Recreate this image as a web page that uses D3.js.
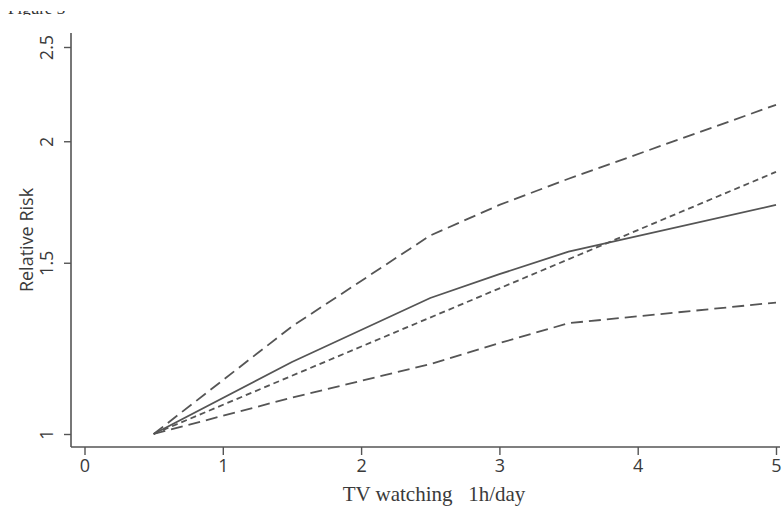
<!DOCTYPE html>
<html>
<head>
<meta charset="utf-8">
<script src="https://cdn.jsdelivr.net/npm/d3@7"></script>
<style>
  body { margin: 0; background: #fff; }
  svg { display: block; }
</style>
</head>
<body>
<div id="chart"></div>
<script>
// data
var xTicks = [0, 1, 2, 3, 4, 5];
var yTicks = [1, 1.5, 2, 2.5];
var upperX = [0.5, 1.5, 2.5, 3, 3.5, 5];
var upperY = [1, 1.29, 1.60, 1.72, 1.83, 2.18];
var rrX = [0.5, 1.5, 2.5, 3, 3.5, 5];
var rrY = [1, 1.186, 1.38, 1.46, 1.54, 1.72];
var linearX = [0.5, 5];
var linearY = [1, 1.86];
var lowerX = [0.5, 1.5, 2.5, 3, 3.5, 5];
var lowerY = [1, 1.09, 1.18, 1.24, 1.30, 1.365];

var svgWidth = 784, svgHeight = 510;
var svg = d3.select("#chart").append("svg")
  .attr("width", svgWidth)
  .attr("height", svgHeight);

// cut-off caption at the top of the page
svg.append("clipPath").attr("id", "topclip")
  .append("rect").attr("x", 0).attr("y", 11).attr("width", 100).attr("height", 4);
svg.append("text")
  .attr("clip-path", "url(#topclip)")
  .attr("x", 8).attr("y", 14)
  .style("font-family", "Liberation Serif")
  .style("font-size", "17px")
  .style("fill", "#333")
  .text("Figure 3");

// scales
var x = d3.scaleLinear().domain([0, 5]).range([84.5, 776]);
var y = d3.scaleLog().domain([1, 2.5]).range([434, 47]);
var axisLeftX = 71, axisBottomY = 447, axisTop = 33, axisRight = 780;

var ink = "#555";
var textInk = "#3a3a3a";

// axes
var bottomAxis = d3.axisBottom(x).tickValues(xTicks).tickSize(8).tickPadding(4)
  .tickFormat(d3.format("d"));
var gx = svg.append("g")
  .attr("transform", `translate(0, ${axisBottomY})`)
  .call(bottomAxis);
gx.select(".domain").remove();
gx.append("line")
  .attr("x1", axisLeftX).attr("x2", axisRight)
  .attr("stroke", ink).attr("stroke-width", 1.6);
gx.selectAll(".tick line").attr("stroke", ink).attr("stroke-width", 1.4);
gx.selectAll(".tick text")
  .style("font-family", "Open Sans")
  .style("font-size", "18px")
  .style("fill", textInk);

var leftAxis = d3.axisLeft(y).tickValues(yTicks).tickSize(7).tickFormat(d => String(d));
var gy = svg.append("g")
  .attr("transform", `translate(${axisLeftX}, 0)`)
  .call(leftAxis);
gy.select(".domain").remove();
gy.append("line")
  .attr("y1", axisTop).attr("y2", axisBottomY)
  .attr("stroke", ink).attr("stroke-width", 1.6);
gy.selectAll(".tick line").attr("stroke", ink).attr("stroke-width", 1.4);
gy.selectAll(".tick text")
  .attr("x", null).attr("dy", null)
  .attr("transform", "translate(-18, 0) rotate(-90)")
  .style("text-anchor", "middle")
  .style("font-family", "Open Sans")
  .style("font-size", "18px")
  .style("fill", textInk);

// axis titles
svg.append("text")
  .attr("transform", "translate(33, 240) rotate(-90)")
  .style("text-anchor", "middle")
  .style("font-family", "Open Sans")
  .style("font-size", "18px")
  .style("fill", textInk)
  .text("Relative Risk");

svg.append("text")
  .attr("x", 434).attr("y", 501)
  .style("text-anchor", "middle")
  .style("font-family", "Liberation Serif")
  .style("font-size", "21px")
  .style("fill", textInk)
  .attr("xml:space", "preserve")
  .text("TV watching   1h/day");

// curves
var line = d3.line().x(d => x(d[0])).y(d => y(d[1]));
var series = [
  { xs: upperX, ys: upperY, dash: "12,6" },
  { xs: rrX, ys: rrY, dash: null },
  { xs: linearX, ys: linearY, dash: "6,4" },
  { xs: lowerX, ys: lowerY, dash: "12,6" }
];
series.forEach(function(s) {
  svg.append("path")
    .datum(s.xs.map((v, i) => [v, s.ys[i]]))
    .attr("d", line)
    .attr("fill", "none")
    .attr("stroke", ink)
    .attr("stroke-width", 1.8)
    .attr("stroke-dasharray", s.dash);
});
</script>
</body>
</html>
